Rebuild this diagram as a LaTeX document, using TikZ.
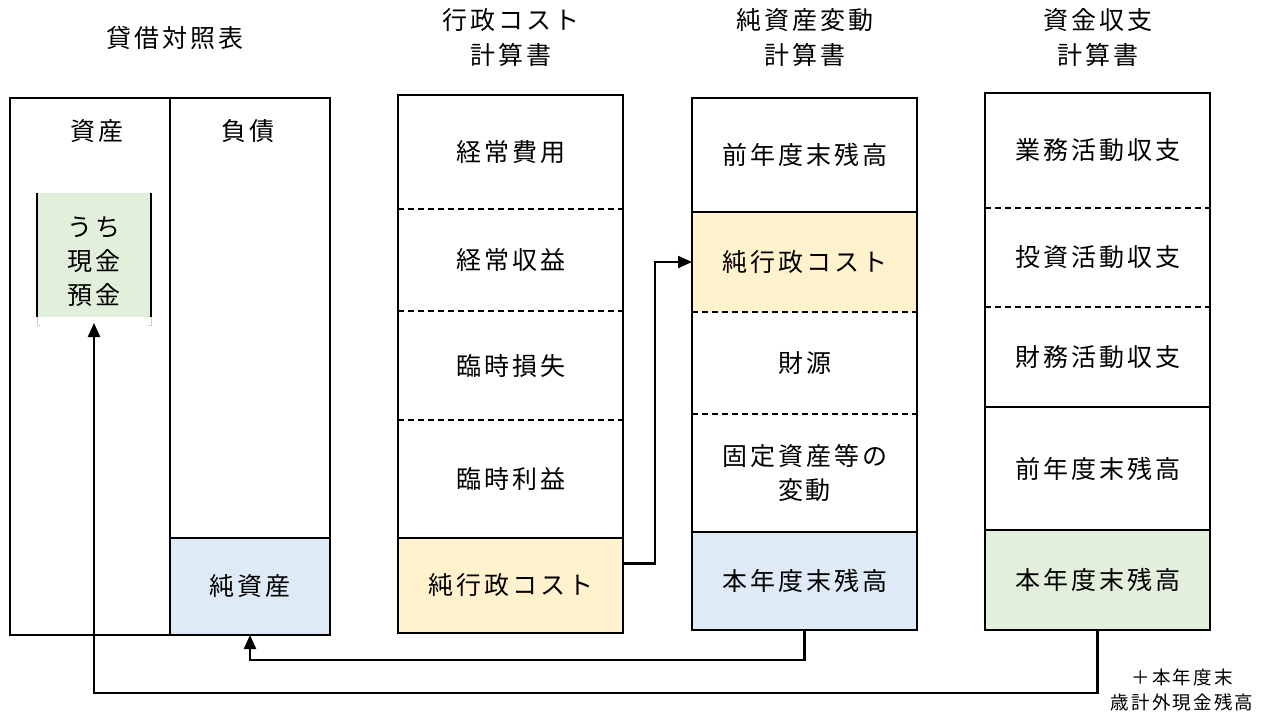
\documentclass[tikz,border=0pt]{standalone}
\usepackage{fontspec}
\setmainfont{Noto Sans CJK JP}[LetterSpace=12]
\usetikzlibrary{arrows.meta,calc}
\definecolor{cyellow}{HTML}{FFF2CC}
\definecolor{cblue}{HTML}{DEEBF7}
\definecolor{cgreen}{HTML}{E2EFDA}
\begin{document}
\begin{tikzpicture}[x=1pt,y=-1pt,
  sec/.style={inner sep=0pt, outer sep=0pt, minimum width=225pt, align=center,
    font=\fontsize{25}{34}\selectfont},
  lbl/.style={inner sep=0pt, align=center, font=\fontsize{25}{35}\selectfont},
  frame/.style={line width=2.2pt},
  divline/.style={line width=1.8pt, dash pattern=on 6pt off 4pt},
  conn/.style={line width=2.2pt, -{Triangle[length=14pt,width=12pt]}},
]
\useasboundingbox[fill=white] (0,0) rectangle (1268,713);

% titles
\node[lbl] (t1) at (175,38) {貸借対照表};
\node[lbl] (t2) at (511,38) {行政コスト\\計算書};
\node[lbl] (t3) at (805,38) {純資産変動\\計算書};
\node[lbl] (t4) at (1098,38) {資金収支\\計算書};

% balance sheet
\node[draw, frame, minimum width=320pt, minimum height=537pt, inner sep=0pt] (bs) at (170,366.5) {};
\node[sec, minimum width=160pt, minimum height=97pt, fill=cblue, draw, frame] (bnet) at (250,586.5) {純資産};
\draw[frame] (bs.north) -- (bs.south);
\node[lbl] (asset) at (97,131) {資産};
\node[lbl] (liab) at (248,131) {負債};
\node[sec, fill=cgreen, minimum width=114pt, minimum height=124pt] (cash) at (94,255) {};
\node[sec, minimum width=114pt] (cashtxt) at (94,262) {うち\\現金\\預金};
\draw[frame] (cash.north west) -- (cash.south west);
\draw[frame] (cash.north east) -- (cash.south east);
\draw[gray!40, line width=0.8pt] (cash.south west) -- ++(0,8) -- ++(3,0);
\draw[gray!40, line width=0.8pt] (cash.south east) -- ++(0,8) -- ++(-3,0);

% 行政コスト計算書
\node[sec, minimum height=114pt] (g1) at (510.5,152) {経常費用};
\node[sec, minimum height=103pt] (g2) at (510.5,259.5) {経常収益};
\node[sec, minimum height=109pt] (g3) at (510.5,365.5) {臨時損失};
\node[sec, minimum height=118pt] (g4) at (510.5,479) {臨時利益};
\node[sec, minimum height=95pt, fill=cyellow] (g5) at (510.5,585.5) {純行政コスト};
\draw[frame] (g1.north west) rectangle (g5.south east);
\draw[divline] (g1.south west) -- (g1.south east);
\draw[divline] (g2.south west) -- (g2.south east);
\draw[divline] (g3.south west) -- (g3.south east);
\draw[frame] (g4.south west) -- (g4.south east);

% 純資産変動計算書
\node[sec, minimum height=114pt] (n1) at (804.5,155) {前年度末残高};
\node[sec, minimum height=100pt, fill=cyellow] (n2) at (804.5,262) {純行政コスト};
\node[sec, minimum height=102pt] (n3) at (804.5,363) {財源};
\node[sec, minimum height=118pt] (n4) at (804.5,473) {固定資産等の\\変動};
\node[sec, minimum height=98pt, fill=cblue] (n5) at (804.5,581) {本年度末残高};
\draw[frame] (n1.north west) rectangle (n5.south east);
\draw[frame] (n1.south west) -- (n1.south east);
\draw[divline] (n2.south west) -- (n2.south east);
\draw[divline] (n3.south west) -- (n3.south east);
\draw[frame] (n4.south west) -- (n4.south east);

% 資金収支計算書
\node[sec, minimum height=115pt] (k1) at (1097.5,150.5) {業務活動収支};
\node[sec, minimum height=99pt] (k2) at (1097.5,257.5) {投資活動収支};
\node[sec, minimum height=100pt] (k3) at (1097.5,357) {財務活動収支};
\node[sec, minimum height=123pt] (k4) at (1097.5,468.5) {前年度末残高};
\node[sec, minimum height=100pt, fill=cgreen] (k5) at (1097.5,580) {本年度末残高};
\draw[frame] (k1.north west) rectangle (k5.south east);
\draw[divline] (k1.south west) -- (k1.south east);
\draw[divline] (k2.south west) -- (k2.south east);
\draw[frame] (k3.south west) -- (k3.south east);
\draw[frame] (k4.south west) -- (k4.south east);

% note
\node[inner sep=0pt, align=center, font=\fontsize{18.5}{25}\selectfont] (note) at (1182,690) {＋本年度末\\歳計外現金残高};

% connectors
\draw[conn] ([yshift=22pt]g5.east) -- ++(32,0) |- (n2.west);
\draw[conn] (n5.south) -- ++(0,30) -| (bnet.south);
\draw[conn] (k5.south) -- ++(0,63) -| ([yshift=-6pt]cash.south);
\end{tikzpicture}
\end{document}
